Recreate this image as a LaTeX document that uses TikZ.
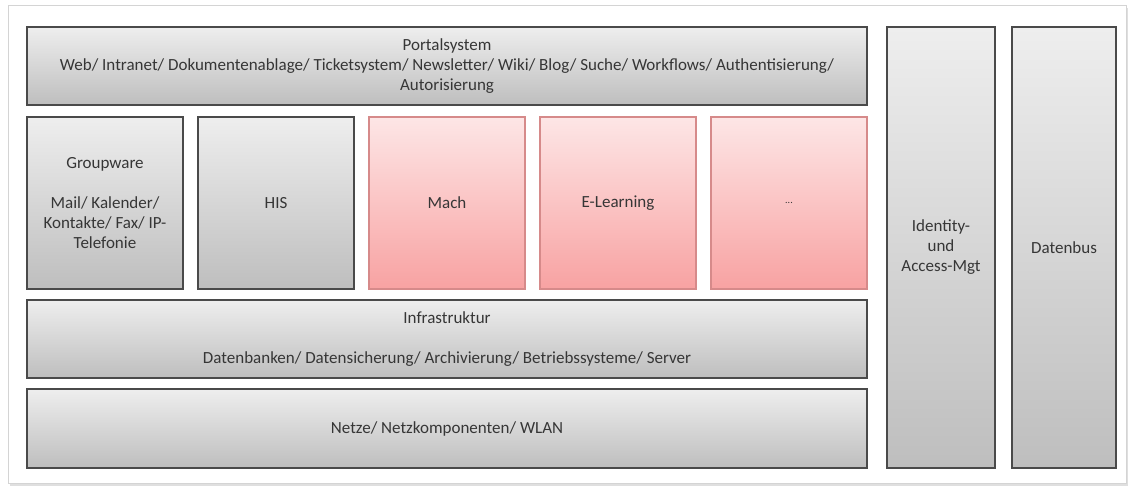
\documentclass[tikz,border=0pt]{standalone}
\usepackage{fontspec}
\setmainfont{Carlito}
\usetikzlibrary{shadows}
\definecolor{gtop}{HTML}{EEEEEE}
\definecolor{gbot}{HTML}{BEBEBE}
\definecolor{gline}{HTML}{4A4A4A}
\definecolor{rtop}{HTML}{FDE6E6}
\definecolor{rbot}{HTML}{F8A2A2}
\definecolor{rline}{HTML}{D68A8A}
\definecolor{txt}{HTML}{363636}
\definecolor{frame}{HTML}{D4D4D4}
\begin{document}
\begin{tikzpicture}[x=1pt,y=-1pt,
  box/.style={draw=gline, line width=1.3pt, top color=gtop, bottom color=gbot,
    align=center, inner sep=0pt, text=txt,
    font=\fontsize{17}{20}\selectfont,
    drop shadow={opacity=0.35, shadow xshift=1.2pt, shadow yshift=-1.2pt}},
  redbox/.style={box, draw=rline, top color=rtop, bottom color=rbot}
]
\useasboundingbox (0,0) rectangle (1132,488);
\fill[white] (0,0) rectangle (1132,488);
\node[draw=frame, line width=1pt, fill=white, inner sep=0pt,
  minimum width=1118pt, minimum height=478pt,
  drop shadow={opacity=0.25, shadow xshift=2pt, shadow yshift=-2pt}] (frame) at (567,244.5) {};
\node[box, minimum width=840pt, minimum height=78pt] (portal) at (447,66)
  {Portalsystem\\Web/ Intranet/ Dokumentenablage/ Ticketsystem/ Newsletter/ Wiki/ Blog/ Suche/ Workflows/ Authentisierung/\\Autorisierung};
\node[box, minimum width=156pt, minimum height=172pt] (groupware) at (105,203)
  {Groupware\\[20pt]Mail/ Kalender/\\Kontakte/ Fax/ IP-\\Telefonie};
\node[box, minimum width=156pt, minimum height=172pt] (his) at (276,203) {HIS};
\node[redbox, minimum width=156pt, minimum height=172pt] (mach) at (447,203) {Mach};
\node[redbox, minimum width=156pt, minimum height=172pt] (elearn) at (618,203) {E-Learning};
\node[redbox, minimum width=156pt, minimum height=172pt] (more) at (789,203) {\fontsize{10}{12}\selectfont ...};
\node[box, minimum width=840pt, minimum height=78pt] (infra) at (447,339)
  {Infrastruktur\\[20pt]Datenbanken/ Datensicherung/ Archivierung/ Betriebssysteme/ Server};
\node[box, minimum width=840pt, minimum height=79pt] (netze) at (447,428.5)
  {Netze/ Netzkomponenten/ WLAN};
\node[box, minimum width=108pt, minimum height=441pt] (iam) at (941,247.5)
  {Identity-\\und\\Access-Mgt};
\node[box, minimum width=104pt, minimum height=441pt] (bus) at (1064,247.5) {Datenbus};
\end{tikzpicture}
\end{document}
